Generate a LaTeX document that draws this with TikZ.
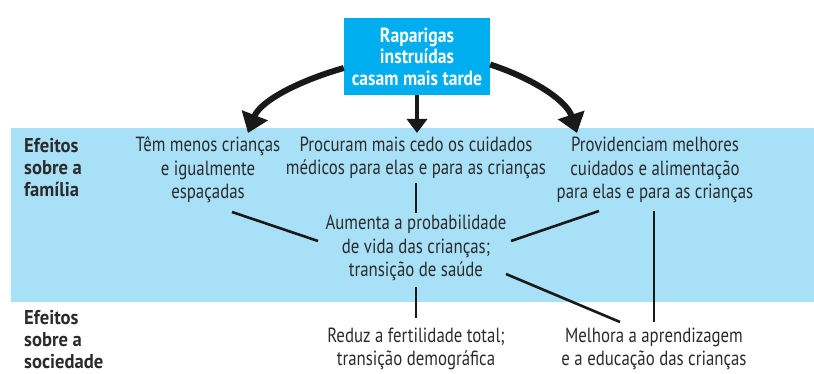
\documentclass[tikz,border=0pt]{standalone}
\usepackage{fontspec}
\setmainfont{PT Sans}[FakeStretch=0.82]
\newfontfamily\headfont{PT Sans}[FakeStretch=0.93]
\newfontfamily\boxfont{PT Sans}[FakeStretch=0.86]
\usetikzlibrary{arrows.meta}
\definecolor{bandblue}{HTML}{A8E0F8}
\definecolor{boxblue}{HTML}{00AEEF}
\definecolor{txt}{HTML}{2B2B2B}
\tikzset{
  txtnode/.style={align=center, inner sep=0pt, text=txt, font=\fontsize{20.5}{23.5}\selectfont},
  headnode/.style={align=left, inner sep=0pt, anchor=west, text=txt, font=\headfont\bfseries\fontsize{20}{22}\selectfont},
  topbox/.style={fill=boxblue, text=white, align=center, minimum width=146pt, minimum height=77pt, inner sep=0pt, font=\boxfont\bfseries\fontsize{20.5}{21.5}\selectfont},
  link/.style={line width=2.6pt, draw=black!90},
  bigarrow/.style={line width=6pt, draw=black!90, -{Triangle[width=27pt,length=19pt]}},
  midarrow/.style={line width=4.5pt, draw=black!90, -{Triangle[width=20pt,length=14pt]}}
}
\begin{document}
\begin{tikzpicture}[x=1pt,y=-1pt]
\useasboundingbox (0,0) rectangle (814,374);
\fill[bandblue] (11,128) rectangle (814,302);
\node[topbox] (top) at (417,56.5) {Raparigas\\instruídas\\casam mais tarde};
\node[headnode] (famhead) at (24,168) {Efeitos\\sobre a\\família};
\node[headnode] (sochead) at (24,340) {Efeitos\\sobre a\\sociedade};
\node[txtnode] (n1) at (208,170) {Têm menos crianças\\e igualmente\\espaçadas};
\node[txtnode] (n2) at (416,158) {Procuram mais cedo os cuidados\\médicos para elas e para as crianças};
\node[txtnode] (n3) at (655,170) {Providenciam melhores\\cuidados e alimentação\\para elas e para as crianças};
\node[txtnode] (n4) at (416,248) {Aumenta a probabilidade\\de vida das crianças;\\transição de saúde};
\node[txtnode] (n5) at (416,349) {Reduz a fertilidade total;\\transição demográfica};
\node[txtnode] (n6) at (654,349) {Melhora a aprendizagem\\e a educação das crianças};
% connector end points
\coordinate (a1) at (232,212);
\coordinate (a2) at (318,241);
\coordinate (b1) at (599,211);
\coordinate (b2) at (511,241);
\coordinate (c1) at (506,274);
\coordinate (c2) at (620,322);
\coordinate (d1) at (654,211);
\coordinate (d2) at (654,322);
\coordinate (e1) at (416,183);
\coordinate (e2) at (416,213);
\coordinate (f1) at (416,287);
\coordinate (f2) at (416,318);
\draw[link] (a1) -- (a2);
\draw[link] (b1) -- (b2);
\draw[link] (c1) -- (c2);
\draw[link] (d1) -- (d2);
\draw[link] (e1) -- (e2);
\draw[link] (f1) -- (f2);
% arrows
\coordinate (lt) at (248,133);
\coordinate (rt) at (577,133);
\coordinate (mt) at (417,133);
\draw[bigarrow] ([yshift=-11.5pt]top.west) .. controls (295,82) and (260,102) .. (lt);
\draw[bigarrow] ([yshift=-8pt]top.east) .. controls (537,80) and (567,102) .. (rt);
\draw[midarrow] (top.south) -- (mt);
\end{tikzpicture}
\end{document}
